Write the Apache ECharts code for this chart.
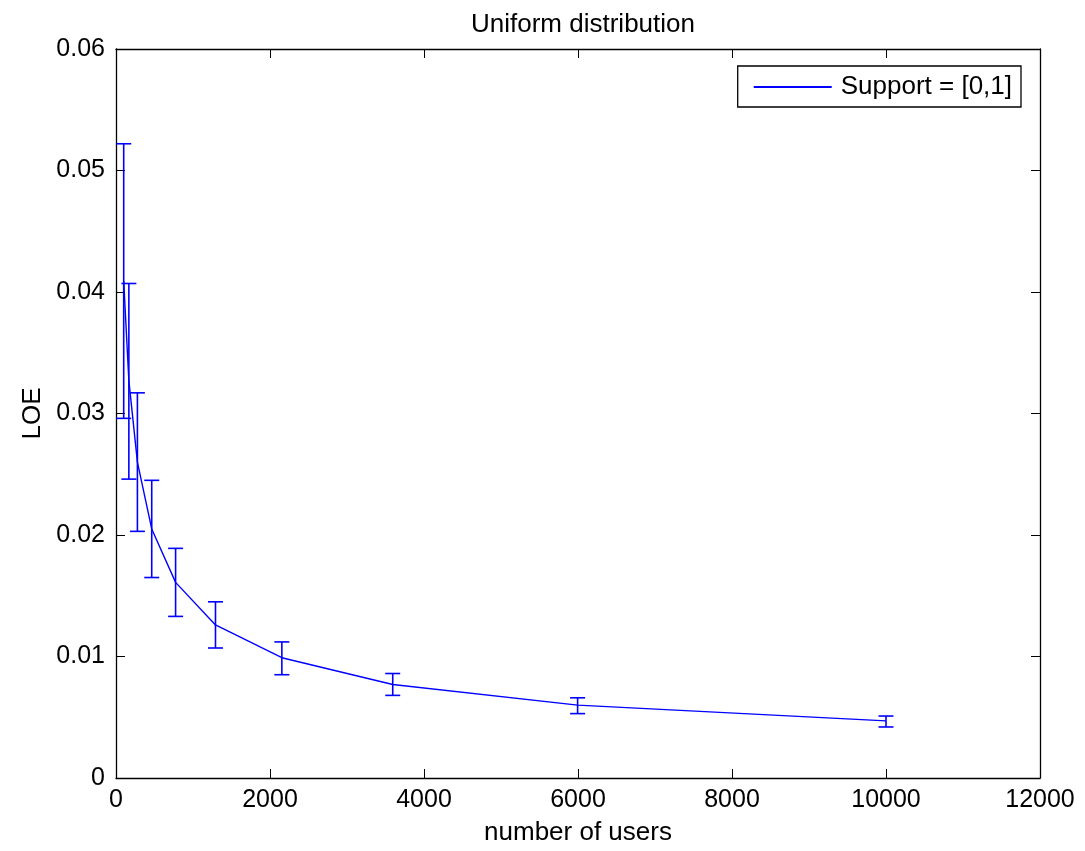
<!DOCTYPE html>
<html><head><meta charset="utf-8">
<script src="https://cdn.jsdelivr.net/npm/echarts@6/dist/echarts.min.js"></script>
<style>html,body{margin:0;padding:0;background:#fff}#c{width:1085px;height:851px}</style>
</head><body><div id="c"></div>
<script>
const users = [100, 167, 278, 464, 774, 1292, 2154, 3594, 5995, 10000];
const loeMean = [0.0409, 0.0327, 0.0260, 0.0205, 0.0161, 0.0126, 0.0099, 0.0077, 0.0060, 0.0047];
const loeUpper = [0.0522, 0.0407, 0.0317, 0.0245, 0.0189, 0.0145, 0.0112, 0.0086, 0.0066, 0.0051];
const loeLower = [0.0296, 0.0246, 0.0203, 0.0165, 0.0133, 0.0107, 0.0085, 0.0068, 0.0053, 0.0042];
const xTicks = [0, 2000, 4000, 6000, 8000, 10000, 12000];
const yTicks = [0, 0.01, 0.02, 0.03, 0.04, 0.05, 0.06];

const font = 'Liberation Sans, Arial, Helvetica, sans-serif';
const lineData = users.map((u, i) => [u, loeMean[i]]);
const errData = users.map((u, i) => [u, loeLower[i], loeUpper[i]]);
const blue = '#0000ff';

const chart = echarts.init(document.getElementById('c'), null, {renderer: 'canvas'});
const axisCommon = {
  axisLine: {show: true, onZero: false, lineStyle: {color: '#000', width: 1.3}},
  axisTick: {show: true, inside: true, length: 9, lineStyle: {color: '#000', width: 1}},
  splitLine: {show: false}
};
chart.setOption({
  animation: false,
  backgroundColor: '#fff',
  title: {text: 'Uniform distribution', left: 578, textAlign: 'center', top: 7,
    textStyle: {fontFamily: font, fontSize: 26, fontWeight: 'normal', color: '#000'}},
  grid: {left: 116, right: 45, top: 49, bottom: 71, containLabel: false},
  legend: {
    data: ['Support = [0,1]'], right: 64, top: 66,
    borderColor: '#000', borderWidth: 1.3, backgroundColor: '#fff',
    padding: [8, 9, 7, 16], itemWidth: 78, itemHeight: 2, icon: 'rect', itemGap: 6,
    textStyle: {fontFamily: font, fontSize: 26, color: '#000', padding: [0, 0, 0, 4]}
  },
  xAxis: [
    Object.assign({type: 'value', min: xTicks[0], max: xTicks[xTicks.length - 1], interval: 2000,
      name: 'number of users', nameLocation: 'middle', nameGap: 42,
      nameTextStyle: {fontFamily: font, fontSize: 26, color: '#000'},
      axisLabel: {fontFamily: font, fontSize: 25, color: '#000', margin: 10, formatter: v => String(v)}}, axisCommon),
    Object.assign({type: 'value', position: 'top', min: xTicks[0], max: xTicks[xTicks.length - 1], interval: 2000,
      axisLabel: {show: false}}, axisCommon)
  ],
  yAxis: [
    Object.assign({type: 'value', min: yTicks[0], max: yTicks[yTicks.length - 1], interval: 0.01,
      name: 'LOE', nameLocation: 'middle', nameGap: 61, nameRotate: 90,
      nameTextStyle: {fontFamily: font, fontSize: 26, color: '#000'},
      axisLabel: {fontFamily: font, fontSize: 25, color: '#000', margin: 11, formatter: v => String(+v.toFixed(2))}}, axisCommon),
    Object.assign({type: 'value', position: 'right', min: yTicks[0], max: yTicks[yTicks.length - 1], interval: 0.01,
      axisLabel: {show: false}}, axisCommon)
  ],
  series: [
    {name: 'Support = [0,1]', type: 'line', data: lineData, showSymbol: false, symbol: 'none',
      lineStyle: {color: blue, width: 1.4}, itemStyle: {color: blue}},
    {type: 'custom', data: errData, encode: {x: 0, y: [1, 2]},
      renderItem: function (params, api) {
        const x = api.value(0);
        const lo = api.coord([x, api.value(1)]);
        const hi = api.coord([x, api.value(2)]);
        const hw = 7.5;
        const st = {stroke: blue, lineWidth: 1.6, fill: null};
        return {type: 'group', children: [
          {type: 'line', shape: {x1: lo[0], y1: lo[1], x2: hi[0], y2: hi[1]}, style: st},
          {type: 'line', shape: {x1: lo[0] - hw, y1: lo[1], x2: lo[0] + hw, y2: lo[1]}, style: st},
          {type: 'line', shape: {x1: hi[0] - hw, y1: hi[1], x2: hi[0] + hw, y2: hi[1]}, style: st}
        ]};
      }}
  ]
});
</script></body></html>
